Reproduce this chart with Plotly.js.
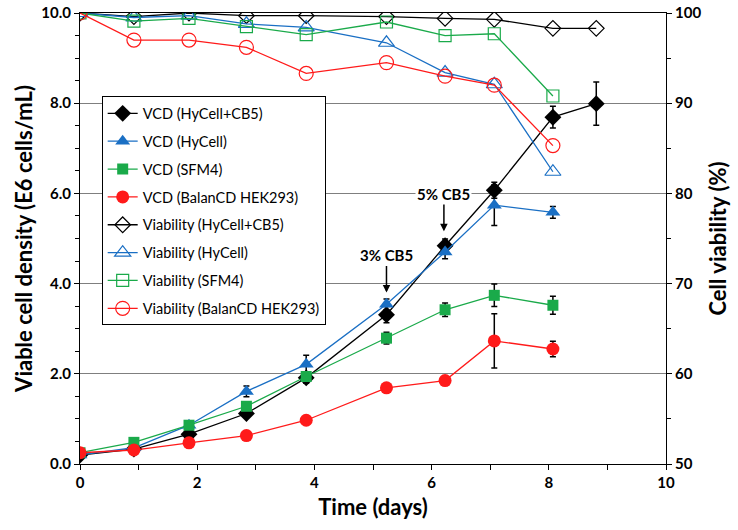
<!DOCTYPE html>
<html><head><meta charset="utf-8">
<script src="https://cdn.plot.ly/plotly-3.0.1.min.js"></script>
<style>body{margin:0;background:#fff}#chart{width:738px;height:530px}</style>
</head><body><div id="chart"></div>
<script>
const time = [0, 0.92, 1.86, 2.84, 3.86, 5.23, 6.23, 7.07, 8.07, 8.81];
const timeShort = [0, 0.92, 1.86, 2.84, 3.86, 5.23, 6.23, 7.07, 8.07];

const vcdCB5 = [0.20, 0.33, 0.66, 1.12, 1.91, 3.31, 4.84, 6.07, 7.69, 7.99];
const vcdCB5Err = [0.02, 0.03, 0.05, 0.08, 0.12, 0.18, 0.15, 0.18, 0.24, 0.48];
const vcdHyCell = [0.20, 0.36, 0.86, 1.61, 2.21, 3.54, 4.70, 5.74, 5.58];
const vcdHyCellErr = [0.02, 0.03, 0.05, 0.12, 0.20, 0.12, 0.15, 0.45, 0.13];
const vcdSFM4 = [0.25, 0.48, 0.86, 1.28, 1.94, 2.79, 3.42, 3.74, 3.52];
const vcdSFM4Err = [0.02, 0.03, 0.05, 0.08, 0.08, 0.13, 0.15, 0.25, 0.20];
const vcdBalan = [0.25, 0.31, 0.47, 0.63, 0.97, 1.69, 1.85, 2.73, 2.55];
const vcdBalanErr = [0.02, 0.03, 0.03, 0.04, 0.05, 0.06, 0.05, 0.60, 0.17];

const viaCB5 = [100, 99.6, 100, 99.7, 99.7, 99.6, 99.4, 99.3, 98.3, 98.3];
const viaHyCell = [100, 99.5, 99.7, 98.8, 98.4, 96.7, 93.4, 92.1, 82.4];
const viaSFM4 = [100, 99.1, 99.4, 98.5, 97.6, 99.0, 97.5, 97.7, 90.8];
const viaBalan = [100, 97.0, 97.0, 96.2, 93.3, 94.5, 93.0, 92.0, 85.3];

const names = ['VCD (HyCell+CB5)', 'VCD (HyCell)', 'VCD (SFM4)', 'VCD (BalanCD HEK293)',
  'Viability (HyCell+CB5)', 'Viability (HyCell)', 'Viability (SFM4)', 'Viability (BalanCD HEK293)'];

const cBlack = '#000000', cBlue = '#1a6fc4', cGreen = '#1aaa4a', cRed = '#ff1a1a';
const lw = 1.3;
function errb(arr){ return {type:'data', array:arr, visible:true, color:'#000', thickness:1.5, width:3}; }

const traces = [
  {x: time, y: vcdCB5, name: names[0], legendgroup:'g0', mode:'lines+markers', error_y: errb(vcdCB5Err),
   line:{color:cBlack, width:lw}, marker:{symbol:'diamond', size:13, color:cBlack}},
  {x: timeShort, y: vcdHyCell, name: names[1], legendgroup:'g1', mode:'lines+markers', error_y: errb(vcdHyCellErr),
   line:{color:cBlue, width:lw}, marker:{symbol:'triangle-up', size:13, color:cBlue}},
  {x: timeShort, y: vcdSFM4, name: names[2], legendgroup:'g2', mode:'lines+markers', error_y: errb(vcdSFM4Err),
   line:{color:cGreen, width:lw}, marker:{symbol:'square', size:11, color:cGreen}},
  {x: timeShort, y: vcdBalan, name: names[3], legendgroup:'g3', mode:'lines+markers', error_y: errb(vcdBalanErr),
   line:{color:cRed, width:lw}, marker:{symbol:'circle', size:13, color:cRed}},
  {x: time, y: viaCB5, name: names[4], legendgroup:'g4', mode:'lines+markers', yaxis:'y2',
   line:{color:cBlack, width:lw}, marker:{symbol:'diamond-open', size:12, color:cBlack, line:{width:1.2}}},
  {x: timeShort, y: viaHyCell, name: names[5], legendgroup:'g5', mode:'lines+markers', yaxis:'y2',
   line:{color:cBlue, width:lw}, marker:{symbol:'triangle-up-open', size:14, color:cBlue, line:{width:1.2}}},
  {x: timeShort, y: viaSFM4, name: names[6], legendgroup:'g6', mode:'lines+markers', yaxis:'y2',
   line:{color:cGreen, width:lw}, marker:{symbol:'square-open', size:12, color:cGreen, line:{width:1.2}}},
  {x: timeShort, y: viaBalan, name: names[7], legendgroup:'g7', mode:'lines+markers', yaxis:'y2',
   line:{color:cRed, width:lw}, marker:{symbol:'circle-open', size:14, color:cRed, line:{width:1.2}}}
];

const fam = 'Lato, "Open Sans", sans-serif';
const tickFont = {family:fam, size:15, color:'#000', weight:'bold'};
const titleFont = {family:fam, size:22, color:'#000', weight:'bold'};

const layout = {
  width:738, height:530,
  margin:{l:80, r:72, t:13, b:66},
  paper_bgcolor:'#fff', plot_bgcolor:'#fff',
  showlegend:true,
  legend:{x:0.037, y:0.815, xanchor:'left', yanchor:'top', bgcolor:'#fff', bordercolor:'#000', borderwidth:1,
    font:{family:fam, size:14.5, color:'#000'}, tracegroupgap:6, itemwidth:30},
  xaxis:{range:[0,10], dtick:2, tick0:0, showgrid:false, zeroline:false, showline:true, linecolor:'#000', linewidth:1,
    mirror:true, ticks:'outside', ticklen:5, tickcolor:'#000', tickfont:tickFont,
    minor:{dtick:1, ticks:'outside', ticklen:5, tickcolor:'#000'},
    title:{text:'Time (days)', font:titleFont, standoff:9}},
  yaxis:{range:[0,10], dtick:2, tick0:0, tickformat:'.1f', showgrid:true, gridcolor:'#7f7f7f', gridwidth:1,
    zeroline:false, showline:true, linecolor:'#000', linewidth:1, ticks:'outside', ticklen:5, tickcolor:'#000',
    tickfont:tickFont, minor:{dtick:0.5, ticks:'outside', ticklen:4, tickcolor:'#000', showgrid:false},
    title:{text:'Viable cell density (E6 cells/mL)', font:titleFont, standoff:2}},
  yaxis2:{range:[50,100], dtick:10, overlaying:'y', side:'right', showgrid:false, zeroline:false, showline:true,
    linecolor:'#000', linewidth:1, ticks:'outside', ticklen:5, tickcolor:'#000', tickfont:tickFont,
    minor:{dtick:5, ticks:'outside', ticklen:4, tickcolor:'#000'},
    title:{text:'Cell viability (%)', font:titleFont, standoff:10}},
  annotations:[
    {x:5.23, y:3.80, xref:'x', yref:'y', ax:0, ay:-28, text:'', showarrow:true, arrowhead:2, arrowsize:1, arrowwidth:1.5, arrowcolor:'#000'},
    {x:5.23, y:4.64, xref:'x', yref:'y', text:'3% CB5', showarrow:false, font:{family:fam, size:15, color:'#000', weight:'bold'}},
    {x:6.21, y:5.16, xref:'x', yref:'y', ax:0, ay:-29, text:'', showarrow:true, arrowhead:2, arrowsize:1, arrowwidth:1.5, arrowcolor:'#000'},
    {x:6.21, y:5.98, xref:'x', yref:'y', text:'5% CB5', showarrow:false, bgcolor:'#fff', font:{family:fam, size:15, color:'#000', weight:'bold'}}
  ]
};

Plotly.newPlot('chart', traces, layout, {displayModeBar:false, staticPlot:true});
</script></body></html>
